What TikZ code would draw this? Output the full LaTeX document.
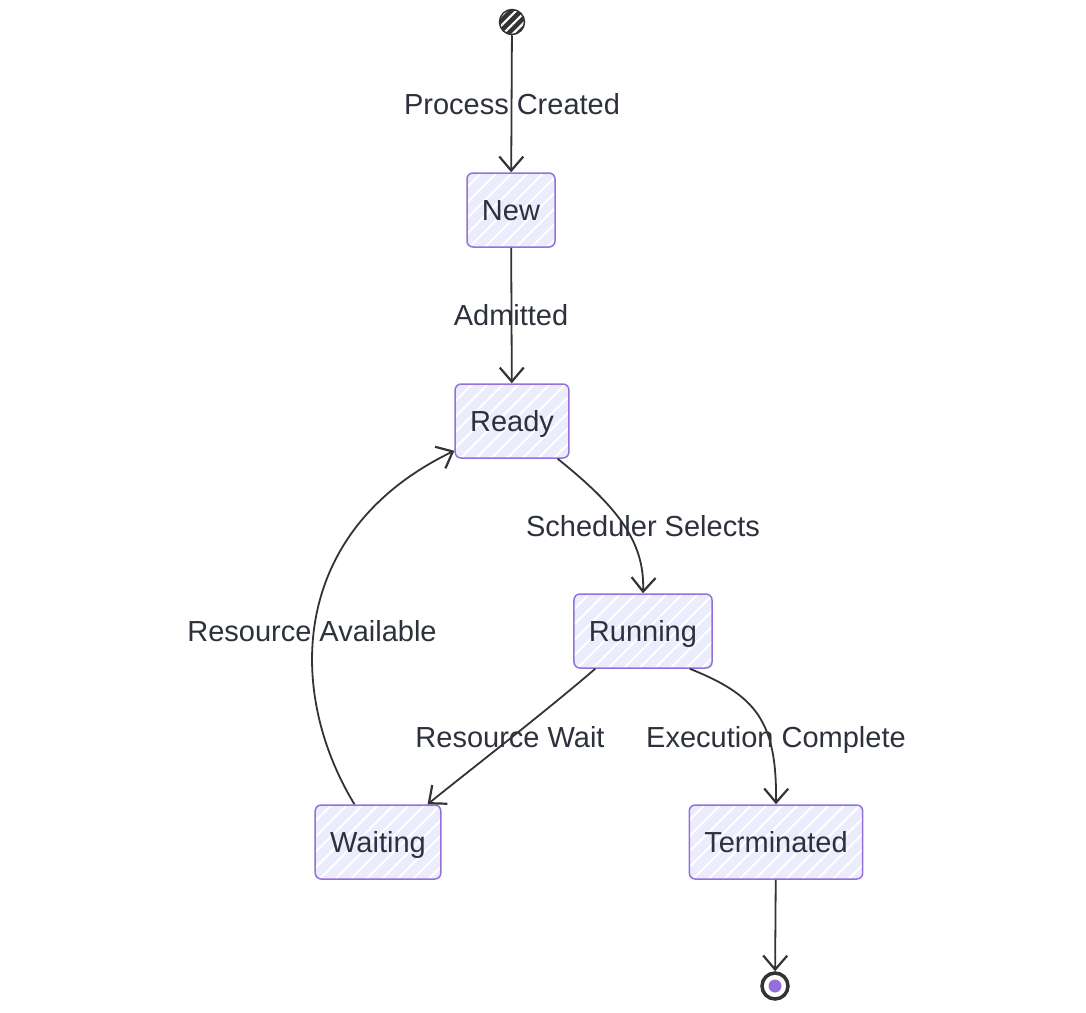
\documentclass[tikz,border=0pt]{standalone}
\usepackage{fontspec}
\setmainfont{Liberation Sans}
\usetikzlibrary{positioning, calc, arrows.meta, patterns.meta}
\definecolor{stateborder}{HTML}{9370DB}
\definecolor{statefill}{HTML}{ECECFF}
\definecolor{ink}{HTML}{333333}
\definecolor{words}{HTML}{2C313C}

\begin{document}
\begin{tikzpicture}[x=1pt, y=-1pt,
	every node/.style={font=\fontsize{29}{35}\selectfont, text=words},
	edgetext/.style={text height=20pt, text depth=0pt},
	state/.style={edgetext, draw=stateborder, line width=1.5pt, rounded corners=6pt,
		preaction={fill=statefill},
		preaction={pattern={Lines[angle=45, distance=11pt, line width=2pt]}, pattern color=white},
		minimum height=74pt, inner xsep=15pt},
	trans/.style={draw=ink, line width=1.8pt, -{Straight Barb[length=14pt, width=24pt, line width=2.2pt]}}]
\useasboundingbox (0,0) rectangle (1086,1012);

% start and end points
\node[circle, minimum size=25pt, inner sep=0, draw=ink, line width=1.5pt, preaction={fill=ink},
	preaction={pattern={Lines[angle=45, distance=7pt, line width=2.2pt]}, pattern color=white}] (start) at (512,22) {};
\node[circle, minimum size=26pt, inner sep=0, draw=ink, line width=3.5pt, fill=white] (end) at (775,986) {};
\node[circle, minimum size=13pt, inner sep=0, fill=stateborder] (endcore) at (end) {};

% states
\foreach \n/\x/\y/\t in {new/511/210/New, ready/512/421/Ready, running/643/631/Running,
	waiting/378/842/Waiting, term/776/842/Terminated} {
	\node[state] (\n) at (\x,\y) {\t};
}

% transition texts
\foreach \n/\x/\y/\t in {created/512/104/Process Created, admitted/511/315/Admitted,
	selects/643/526/Scheduler Selects, available/312/631/Resource Available,
	wait/510/737/Resource Wait, complete/776/737/Execution Complete} {
	\node[edgetext] (\n) at (\x,\y) {\t};
}

\draw[trans] (start) -- (new);
\draw[trans] (new) -- (ready);
\draw[trans] ([xshift=-12pt]ready.south east) .. controls (615,505) and (645,540) .. (running.north);
\draw[trans] ([xshift=22pt]running.south west) .. controls (545,712) and (470,770) .. ([xshift=-14pt]waiting.north east);
\draw[trans] ([xshift=-23pt]running.south east) .. controls (755,695) and (777,720) .. (term.north);
\draw[trans] ([xshift=40pt]waiting.north west) .. controls (285,690) and (290,530) .. ([yshift=8pt]ready.south west);
\draw[trans] (term) -- (end);
\end{tikzpicture}
\end{document}
